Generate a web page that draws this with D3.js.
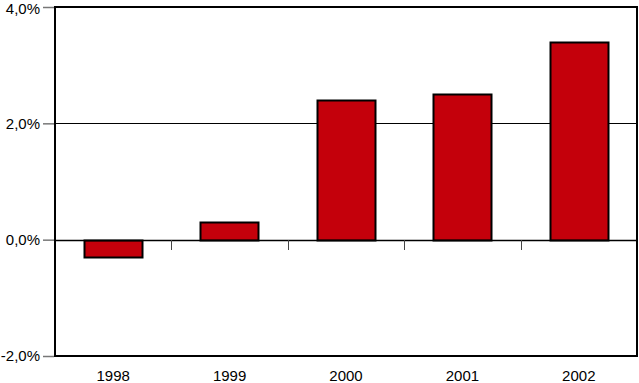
<!DOCTYPE html>
<html><head><meta charset="utf-8">
<script src="https://cdn.jsdelivr.net/npm/d3@7"></script>
<style>body{margin:0;background:#fff}svg{display:block}text{font-family:"Liberation Sans",Arial,sans-serif;font-size:15px;fill:#000}</style>
</head><body><svg id="c" width="639" height="383"></svg>
<script>
const categories = ["1998","1999","2000","2001","2002"];
const values = [-0.3, 0.3, 2.4, 2.5, 3.4];
const yTicks = [-2, 0, 2, 4];
const yTickLabels = ["-2,0%","0,0%","2,0%","4,0%"];

const svg = d3.select("#c");
const L = 55, R = 637, T = 7, B = 356;
const x = d3.scaleBand().domain(categories).range([L, R]).paddingInner(0.5).paddingOuter(0.25);
const xb = d3.scaleBand().domain(categories).range([L, R]);
const y = d3.scaleLinear().domain([-2, 4]).range([B, T]);

// gridline at 2%
svg.append("g").selectAll("line").data(yTicks.filter(d => d === 2)).join("line")
  .attr("x1", L).attr("x2", R).attr("y1", d => Math.round(y(d)) + 0.5).attr("y2", d => Math.round(y(d)) + 0.5)
  .attr("stroke", "#000").attr("stroke-width", 1);

// bars
svg.append("g").selectAll("rect").data(values).join("rect")
  .attr("x", (d, i) => Math.round(x(categories[i])) + 0.5)
  .attr("width", Math.round(x.bandwidth()))
  .attr("y", d => Math.round(y(Math.max(0, d))) + 0.5)
  .attr("height", d => Math.abs(Math.round(y(d)) - Math.round(y(0))))
  .attr("fill", "#c4000b").attr("stroke", "#000").attr("stroke-width", 2);

// zero line
svg.append("line").attr("x1", L).attr("x2", R).attr("y1", Math.round(y(0)) + 0.5).attr("y2", Math.round(y(0)) + 0.5)
  .attr("stroke", "#000").attr("stroke-width", 1.5);

// category ticks on zero line
svg.append("g").selectAll("line").data(categories.slice(1)).join("line")
  .attr("x1", d => Math.round(xb(d)) + 0.5).attr("x2", d => Math.round(xb(d)) + 0.5)
  .attr("y1", Math.round(y(0))).attr("y2", Math.round(y(0)) + 10)
  .attr("stroke", "#444").attr("stroke-width", 1);

// frame
svg.append("rect").attr("x", L).attr("y", T).attr("width", R - L).attr("height", B - T)
  .attr("fill", "none").attr("stroke", "#000").attr("stroke-width", 2);

// y axis
const yAxis = d3.axisLeft(y).tickValues(yTicks).tickSize(11).tickPadding(3)
  .tickFormat((d, i) => yTickLabels[i]);
const gy = svg.append("g").attr("transform", `translate(${L - 1},0)`).call(yAxis);
gy.select(".domain").remove();
gy.selectAll(".tick line").attr("stroke", "#777").attr("stroke-width", 1.5);
gy.selectAll("text").attr("font-size", 15).attr("font-family", "Liberation Sans, Arial, sans-serif").attr("fill", "#000");
gy.selectAll("text").filter(d => d === 4).attr("dy", "0.42em");

// x labels
const xAxis = d3.axisBottom(xb).tickSize(0).tickPadding(14);
const gx = svg.append("g").attr("transform", `translate(0,${B})`).call(xAxis);
gx.select(".domain").remove();
gx.selectAll("text").attr("font-size", 15).attr("font-family", "Liberation Sans, Arial, sans-serif").attr("fill", "#000");
</script></body></html>
